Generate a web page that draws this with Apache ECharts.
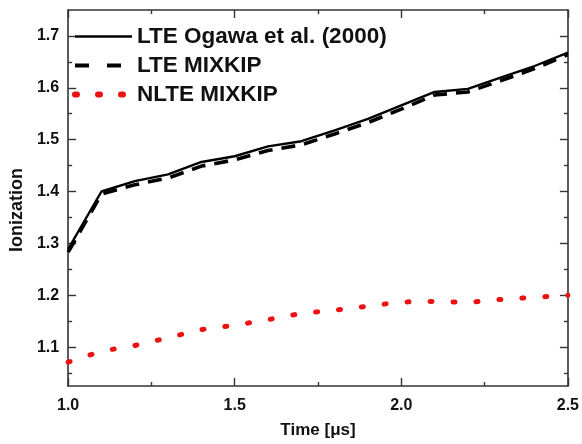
<!DOCTYPE html>
<html><head><meta charset="utf-8">
<script src="https://cdn.jsdelivr.net/npm/echarts@6/dist/echarts.min.js"></script>
<style>html,body{margin:0;padding:0;background:#fff}#c{width:582px;height:444px}</style>
</head><body><div id="c"></div>
<script>
var times = [1.0,1.1,1.2,1.3,1.4,1.5,1.6,1.7,1.8,1.9,2.0,2.1,2.2,2.3,2.4,2.5];
var lteOgawa = [1.289,1.400,1.420,1.433,1.457,1.468,1.487,1.497,1.518,1.540,1.566,1.592,1.598,1.620,1.642,1.668];
var lteMixkip = [1.283,1.395,1.413,1.426,1.449,1.461,1.479,1.490,1.511,1.533,1.559,1.586,1.592,1.614,1.637,1.664];
var nlteMixkip = [1.071,1.092,1.103,1.118,1.134,1.142,1.153,1.165,1.171,1.179,1.187,1.188,1.186,1.192,1.196,1.200];
var yMajor = [1.1,1.2,1.3,1.4,1.5,1.6,1.7];
var yMinor = [1.05,1.15,1.25,1.35,1.45,1.55,1.65];
var names = ['LTE Ogawa et al. (2000)','LTE MIXKIP','NLTE MIXKIP'];

function pairs(v){ return times.map(function(t,i){return [t,v[i]];}); }
var FONT = '"Liberation Sans", Arial, sans-serif';
var axisLineStyle = {color:'#333', width:1.6};
var chart = echarts.init(document.getElementById('c'));
function yAx(pos, vals, len, labels, line){
  return {type:'value', position:pos, min:1.025, max:1.75, scale:true,
    axisLine:{show:line, lineStyle:axisLineStyle},
    axisTick:{show:true, inside:true, length:len, customValues:vals, lineStyle:{color:'#333', width:1.4}},
    axisLabel:{show:labels, customValues:yMajor, fontFamily:FONT, fontWeight:'bold', fontSize:16, color:'#111', margin:9,
      formatter:function(v){return v.toFixed(1);}},
    splitLine:{show:false},
    name: labels ? 'Ionization' : '', nameLocation:'middle', nameGap:40,
    nameTextStyle:{fontFamily:FONT, fontWeight:'bold', fontSize:18, color:'#111', padding:[0,24,0,0]}
  };
}
function xAx(pos, labels){
  return {type:'value', position:pos, min:1.0, max:2.5, interval:0.5,
    axisLine:{show:true, lineStyle:axisLineStyle},
    axisTick:{show:true, inside:true, length:8, lineStyle:{color:'#333', width:1.4}},
    minorTick:{show:true, splitNumber:2, length:4, lineStyle:{color:'#333', width:1.4}},
    axisLabel:{show:labels, fontFamily:FONT, fontWeight:'bold', fontSize:16, color:'#111', margin:12,
      formatter:function(v){return v.toFixed(1);}},
    splitLine:{show:false}, minorSplitLine:{show:false},
    name: labels ? 'Time [μs]' : '', nameLocation:'middle', nameGap:36,
    nameTextStyle:{fontFamily:FONT, fontWeight:'bold', fontSize:17, color:'#111'}
  };
}
chart.setOption({
  animation:false,
  grid:{left:63, right:11, top:10, bottom:56},
  xAxis:[xAx('bottom', true), xAx('top', false)],
  yAxis:[yAx('left', yMajor, 8, true, true), yAx('left', yMinor, 4, false, false),
         yAx('right', yMajor, 8, false, true), yAx('right', yMinor, 4, false, false)],
  legend:{left:72, top:25, padding:0, orient:'vertical', itemWidth:57, itemHeight:14, itemGap:6,
    itemStyle:{opacity:0},
    textStyle:{fontFamily:FONT, fontWeight:'bold', fontSize:22.5, color:'#111', padding:[0,0,0,0]},
    data:[
      {name:names[0], lineStyle:{color:'#000', width:2.6, type:'solid'}},
      {name:names[1], lineStyle:{color:'#000', width:4, type:[14,18]}},
      {name:names[2], lineStyle:{color:'#ee1111', width:6, type:[2,21], cap:'round'}}
    ]},
  series:[
    {name:names[0], type:'line', data:pairs(lteOgawa), symbol:'none', z:3,
     lineStyle:{color:'#000', width:2.4, type:'solid'}, itemStyle:{color:'#000'}},
    {name:names[1], type:'line', data:pairs(lteMixkip), symbol:'none', z:2,
     lineStyle:{color:'#000', width:3.6, type:[14,9]}, itemStyle:{color:'#000'}},
    {name:names[2], type:'line', data:pairs(nlteMixkip), symbol:'none', z:2,
     lineStyle:{color:'#ee1111', width:5, type:[2,21], cap:'round'}, itemStyle:{color:'#ee1111'}}
  ]
});
</script></body></html>
